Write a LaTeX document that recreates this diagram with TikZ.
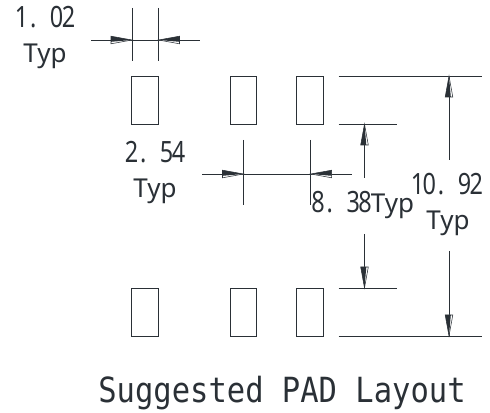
\documentclass[tikz,border=0pt]{standalone}
\usepackage{fontspec}
\newfontfamily\dgfont[FakeStretch=0.8]{Noto Sans}
\newfontfamily\tyfont{Noto Sans}
\newfontfamily\ttlfont[FakeStretch=0.88]{DejaVu Sans Mono}
\definecolor{ink}{HTML}{2A3036}
\newcommand{\cc}[1]{\makebox[8.8pt][c]{#1}}
\newcommand{\dg}[1]{{\dgfont\fontsize{22pt}{24pt}\selectfont #1}}
\newcommand{\ty}[1]{{\tyfont\fontsize{19.5pt}{22pt}\selectfont #1}}
\tikzset{
  padbox/.style={draw=ink,line width=0.7pt,minimum width=20pt,minimum height=36pt,inner sep=0pt,outer sep=0pt},
  dimline/.style={draw=ink,line width=0.7pt},
  lbl/.style={text=ink,inner sep=0pt,anchor=base},
  pics/cadhead/.style={code={
    \draw[ink,line width=0.4pt,fill=white] (0,0)--(-21,-3.8)--(-21,3.8)--cycle;
    \fill[ink] (0,0)--(-21,-3.8)--(-21,1.8)--cycle;
  }},
  pics/cadheadm/.style={code={
    \draw[ink,line width=0.4pt,fill=white] (0,0)--(-21,-3.8)--(-21,3.8)--cycle;
    \fill[ink] (0,0)--(-21,3.8)--(-21,-1.8)--cycle;
  }}
}
\begin{document}
\begin{tikzpicture}[x=0.75pt,y=-0.75pt]
\useasboundingbox (0,0) rectangle (490,413);
% pads
\node[padbox] (p1) at (145.2,100) {};
\node[padbox] (p2) at (243.5,100) {};
\node[padbox] (p3) at (309.7,100) {};
\node[padbox] (p4) at (145.2,312) {};
\node[padbox] (p5) at (243.5,312) {};
\node[padbox] (p6) at (309.7,312) {};
% extension line ends
\coordinate (a1) at (132,8);   \coordinate (a2) at (132,61);
\coordinate (b1) at (158.5,8); \coordinate (b2) at (158.5,61);
\coordinate (c1) at (91,40);   \coordinate (c2) at (200,40);
\coordinate (ca) at (132,40);  \coordinate (cb) at (158.5,40);
\coordinate (d1) at (243.5,140); \coordinate (d2) at (243.5,205);
\coordinate (e1) at (310.7,140); \coordinate (e2) at (310.7,205);
\coordinate (f1) at (202,174);   \coordinate (f2) at (352,174);
\coordinate (fa) at (243.5,174); \coordinate (fb) at (310.7,174);
\coordinate (g1) at (338.5,76);  \coordinate (g2) at (481.5,76);
\coordinate (h1) at (338.5,124); \coordinate (h2) at (397,124);
\coordinate (i1) at (338.5,288); \coordinate (i2) at (397,288);
\coordinate (j1) at (338.5,336); \coordinate (j2) at (481.5,336);
\coordinate (k1) at (364.5,124); \coordinate (k2) at (364.5,178);
\coordinate (k3) at (364.5,234); \coordinate (k4) at (364.5,288);
\coordinate (m1) at (449,76);    \coordinate (m2) at (449,160.5);
\coordinate (m3) at (449,251);   \coordinate (m4) at (449,336);
% lines
\foreach \u/\v in {a1/a2,b1/b2,c1/c2,d1/d2,e1/e2,f1/f2,g1/g2,h1/h2,i1/i2,j1/j2,k1/k2,k3/k4,m1/m2,m3/m4}
  \draw[dimline] (\u) -- (\v);
% arrowheads
\pic[at={(ca)}] {cadhead};
\pic[at={(cb)},rotate=180] {cadheadm};
\pic[at={(fa)}] {cadhead};
\pic[at={(fb)},rotate=180] {cadheadm};
\pic[at={(k1)},rotate=90] {cadhead};
\pic[at={(k4)},rotate=-90] {cadheadm};
\pic[at={(m1)},rotate=90] {cadhead};
\pic[at={(m4)},rotate=-90] {cadheadm};
% labels
\node[lbl] (t1) at (45,28) {\dg{\cc{1}\cc{.}\cc{ }\cc{0}\cc{2}}};
\node[lbl] (t2) at (45,63) {\ty{Typ}};
\node[lbl] (t3) at (155,163) {\dg{\cc{2}\cc{.}\cc{ }\cc{5}\cc{4}}};
\node[lbl] (t4) at (155,198) {\ty{Typ}};
\node[lbl,anchor=base west] (t5) at (312,213) {\dg{\cc{8}\cc{.}\cc{ }\cc{3}\cc{8}}\ty{Typ}};
\node[lbl] (t6) at (447,195) {\dg{\cc{1}\cc{0}\cc{.}\cc{ }\cc{9}\cc{2}}};
\node[lbl] (t7) at (448,230) {\ty{Typ}};
\node[lbl] (t8) at (282,403) {\ttlfont\fontsize{26pt}{30pt}\selectfont Suggested PAD Layout};
\end{tikzpicture}
\end{document}
